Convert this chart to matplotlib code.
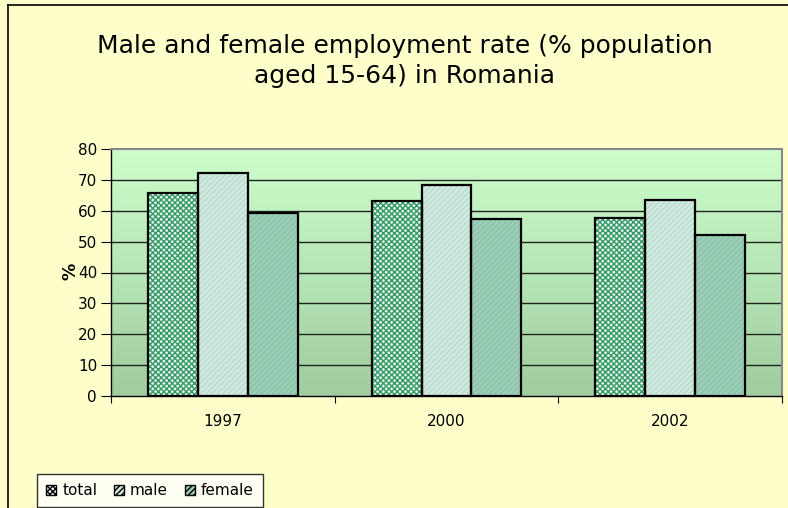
import matplotlib
matplotlib.use("Agg")
import matplotlib.pyplot as plt
import numpy as np
from matplotlib.patches import Patch
from matplotlib.lines import Line2D

plt.rcParams['font.family'] = ['DejaVu Sans']

years = ['1997', '2000', '2002']
total = [65.7, 63.0, 57.8]
male = [72.1, 68.2, 63.6]
female = [59.2, 57.3, 52.0]
series_names = ['total', 'male', 'female']
yticks = [0, 10, 20, 30, 40, 50, 60, 70, 80]

W, H = 788, 508
fig = plt.figure(figsize=(W/100, H/100), dpi=100)
fig.patch.set_facecolor('#FFFFCC')

# outer chart frame (left and top visible)
fig.add_artist(Line2D([8/W, 8/W], [0, 1-5/H], color='black', lw=1.2, transform=fig.transFigure))
fig.add_artist(Line2D([8/W, 1], [1-5/H, 1-5/H], color='black', lw=1.2, transform=fig.transFigure))

ax = fig.add_axes([111/W, 1-396/H, 671/W, 247/H])
ax.set_xlim(-0.5, 2.5)
ax.set_ylim(0, 80)

# gradient background
grad = np.linspace(0, 1, 256).reshape(-1, 1)
top = np.array([204, 255, 204]) / 255
bot = np.array([160, 204, 160]) / 255
img = bot[None, None, :] * (1 - grad[:, :, None]) + top[None, None, :] * grad[:, :, None]
ax.imshow(img, extent=[-0.5, 2.5, 0, 80], aspect='auto', origin='lower', zorder=0)

for y in yticks[1:-1]:
    ax.axhline(y, color='#222222', lw=1.0, zorder=1)

x = np.arange(len(years))
bw = 0.223
styles = [
    dict(face='#E8F4EE', hatch='xxxxxx', hcol='#339966'),
    dict(face='#D2EADF', hatch='//////', hcol='#B8DCCB'),
    dict(face='#9ED0B8', hatch='//////', hcol='#88C2A6'),
]
data = [total, male, female]
for i, (vals, st) in enumerate(zip(data, styles)):
    pos = x + (i - 1) * bw
    ax.bar(pos, vals, bw, facecolor=st['face'], hatch=st['hatch'], edgecolor=st['hcol'], lw=0, zorder=2)
    ax.bar(pos, vals, bw, facecolor='none', edgecolor='black', lw=1.6, zorder=3)

ax.set_yticks(yticks)
ax.set_yticklabels([str(v) for v in yticks], fontsize=11)
ax.set_xticks([-0.5, 0.5, 1.5, 2.5])
ax.set_xticklabels([])
ax.set_xticks(x, minor=True)
ax.set_xticklabels(years, minor=True, fontsize=11)
ax.tick_params(axis='x', which='minor', length=0, pad=13)
ax.tick_params(axis='x', which='major', direction='out', length=5, color='black')
ax.tick_params(axis='y', direction='out', length=7, color='black', pad=3)

for s in ['left', 'bottom']:
    ax.spines[s].set_color('black')
    ax.spines[s].set_linewidth(1.0)
ax.spines['top'].set_color('#888888')
ax.spines['top'].set_linewidth(1.5)
ax.spines['right'].set_color('#888888')
ax.spines['right'].set_linewidth(1.5)

fig.text(70/W, 1-271/H, '%', rotation=90, ha='center', va='center',
         fontsize=12.5, fontweight='bold')

fig.text(405/W, 1-61/H, 'Male and female employment rate (% population\naged 15-64) in Romania',
         ha='center', va='center', fontsize=18, linespacing=1.35)

handles = [Patch(facecolor=st['face'], hatch=st['hatch'], edgecolor='black', lw=1.0) for st in styles]
leg = fig.legend(handles, series_names, loc='upper left', bbox_to_anchor=(37/W, 1-474/H),
                 ncol=3, frameon=True, fontsize=11, handlelength=0.65, handleheight=0.65,
                 handletextpad=0.4, columnspacing=1.1, borderpad=0.6, fancybox=False,
                 borderaxespad=0)
leg.get_frame().set_edgecolor('black')
leg.get_frame().set_facecolor('white')
leg.get_frame().set_linewidth(1.0)

fig.savefig('out.png', dpi=100, facecolor=fig.get_facecolor())
